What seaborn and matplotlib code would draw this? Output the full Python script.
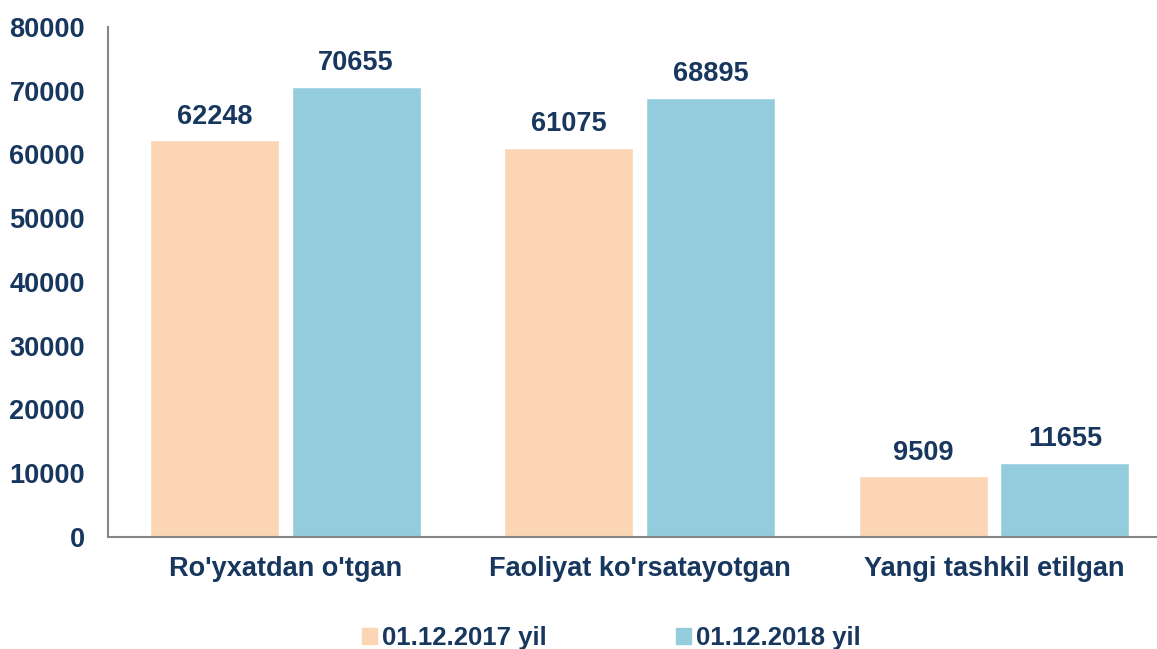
import pandas as pd
import matplotlib.pyplot as plt
import seaborn as sns

categories = ["Ro'yxatdan o'tgan", "Faoliyat ko'rsatayotgan", "Yangi tashkil etilgan"]
series_names = ["01.12.2017 yil", "01.12.2018 yil"]
values_2017 = [62248, 61075, 9509]
values_2018 = [70655, 68895, 11655]
y_ticks = [0, 10000, 20000, 30000, 40000, 50000, 60000, 70000, 80000]

colors = ["#FCD5B5", "#93CDDD"]
navy = "#17375E"

df = pd.DataFrame({
    "category": categories * 2,
    "series": [series_names[0]] * 3 + [series_names[1]] * 3,
    "value": values_2017 + values_2018,
})

sns.set_theme(style="white")
plt.rcParams['font.family'] = ['Liberation Sans', 'DejaVu Sans']
plt.rcParams['font.weight'] = 'bold'

fig = plt.figure(figsize=(11.57, 6.49), dpi=100)
ax = fig.add_axes([108 / 1157, 0.1726, 1.0 - 108 / 1157, 0.7858])

sns.barplot(data=df, x="category", y="value", hue="series",
            palette=colors, width=0.8, gap=0.09, saturation=1,
            ax=ax, legend=False)

# value labels above each bar
for cont in ax.containers:
    ax.bar_label(cont, padding=7.5, fontsize=19.5, fontweight='bold', color=navy)

ax.set_xlim(-0.5, 2.46)
ax.set_ylim(0, 80000)
ax.set_yticks(y_ticks)
ax.set_xlabel("")
ax.set_ylabel("")
ax.tick_params(axis='both', length=0, labelsize=19.5, labelcolor=navy)
ax.tick_params(axis='y', pad=16.5)
ax.tick_params(axis='x', pad=14)
for lab in ax.get_xticklabels() + ax.get_yticklabels():
    lab.set_fontweight('bold')

for side in ["top", "right"]:
    ax.spines[side].set_visible(False)
for side in ["left", "bottom"]:
    ax.spines[side].set_color("#868686")
    ax.spines[side].set_linewidth(1.5)

handles = [plt.Rectangle((0, 0), 1, 1, color=c) for c in colors]
leg = fig.legend(handles, series_names, loc="center", bbox_to_anchor=(0.5285, 0.017),
                 ncol=2, frameon=False, fontsize=18.5, handlelength=0.6,
                 handleheight=0.6, handletextpad=0.2, columnspacing=5.0)
for t in leg.get_texts():
    t.set_color(navy)
    t.set_fontweight('bold')

fig.savefig("out.png", dpi=100)
